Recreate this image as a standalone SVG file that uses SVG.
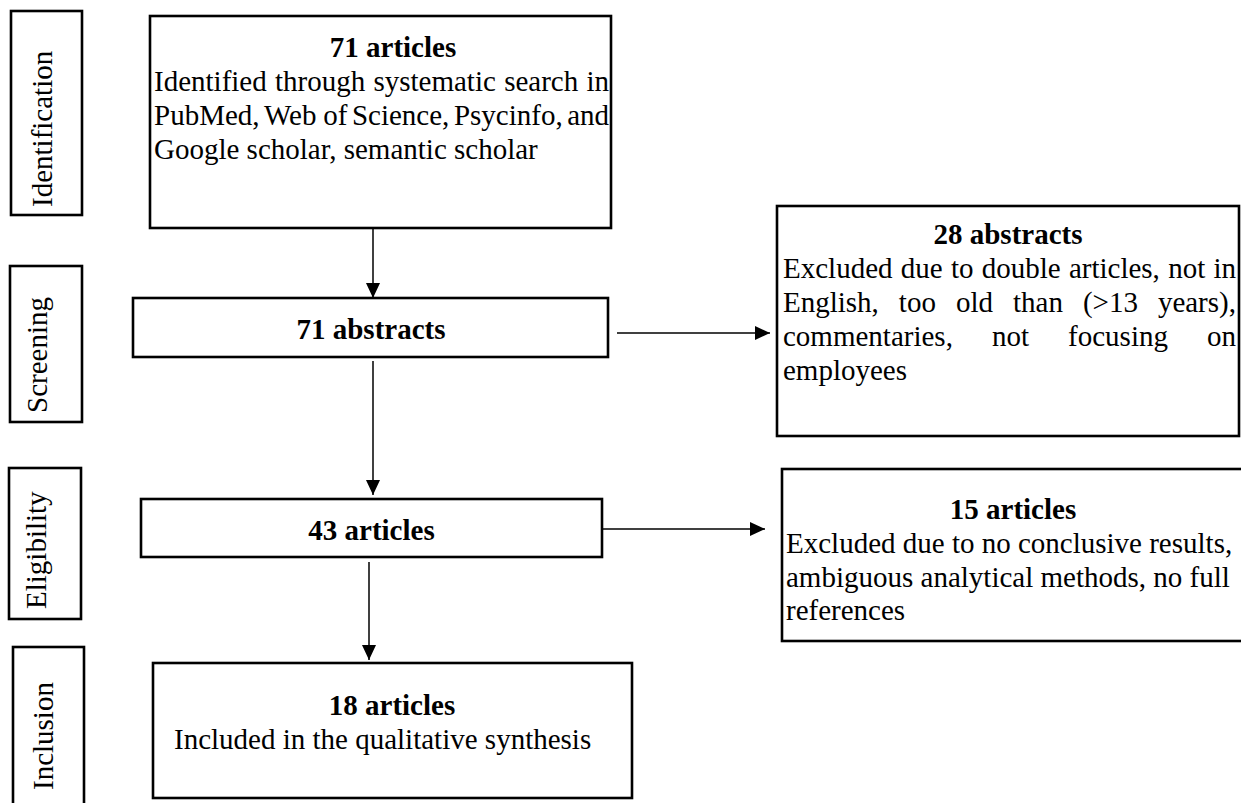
<svg xmlns="http://www.w3.org/2000/svg" width="1241" height="803" viewBox="0 0 1241 803">
<style>
  .box{fill:#fff;stroke:#000;stroke-width:2.6}
  .lbl{fill:none;stroke:#000;stroke-width:2.6}
  .t{font-family:"Liberation Serif","Times New Roman",serif;font-size:29px;fill:#000}
  .b{font-weight:bold;text-anchor:middle}
  .con{stroke:#000;stroke-width:1.5;fill:none;marker-end:url(#ah)}
</style>
<defs>
  <marker id="ah" markerUnits="userSpaceOnUse" markerWidth="16" markerHeight="15" refX="15" refY="7" orient="auto">
    <path d="M0,0 L15,7 L0,14 z" fill="#000"/>
  </marker>
</defs>
<rect width="1241" height="803" fill="#fff"/>

<g id="label-identification">
  <rect class="lbl" x="11" y="11" width="71" height="204"/>
  <text class="t" transform="translate(52,207) rotate(-90)">Identification</text>
</g>
<g id="label-screening">
  <rect class="lbl" x="10" y="266" width="72" height="156"/>
  <text class="t" transform="translate(47,413) rotate(-90)">Screening</text>
</g>
<g id="label-eligibility">
  <rect class="lbl" x="9" y="468" width="72" height="151"/>
  <text class="t" transform="translate(46,609) rotate(-90)">Eligibility</text>
</g>
<g id="label-inclusion">
  <rect class="lbl" x="13" y="647" width="71" height="170"/>
  <text class="t" transform="translate(53,790) rotate(-90)">Inclusion</text>
</g>

<g id="connectors">
  <line class="con" x1="373" y1="228" x2="373" y2="298"/>
  <line class="con" x1="373" y1="361" x2="373" y2="495"/>
  <line class="con" x1="369" y1="562" x2="369" y2="660"/>
  <line class="con" x1="617" y1="333" x2="770" y2="333"/>
  <line class="con" x1="603" y1="529" x2="765" y2="529"/>
</g>

<g id="node-identified">
  <rect class="box" x="150" y="16" width="461" height="212"/>
  <text class="t b" x="393" y="57">71 articles</text>
  <text class="t" y="91"><tspan x="154">Identified</tspan><tspan x="274.99">through</tspan><tspan x="373.45">systematic</tspan><tspan x="504.13">search</tspan><tspan x="586.44">in</tspan></text>
  <text class="t" y="125"><tspan x="154">PubMed,</tspan><tspan x="264.03">Web</tspan><tspan x="323.28">of</tspan><tspan x="351.94">Science,</tspan><tspan x="453.88">Psycinfo,</tspan><tspan x="567.13">and</tspan></text>
  <text class="t" x="154" y="159">Google scholar, semantic scholar</text>
</g>

<g id="node-screening">
  <rect class="box" x="133" y="298" width="475" height="59"/>
  <text class="t b" x="371" y="339">71 abstracts</text>
</g>

<g id="node-excluded-abstracts">
  <rect class="box" x="777" y="206" width="462" height="230"/>
  <text class="t b" x="1008" y="244">28 abstracts</text>
  <text class="t" y="278"><tspan x="783">Excluded</tspan><tspan x="900.78">due</tspan><tspan x="950.9">to</tspan><tspan x="981.71">double</tspan><tspan x="1068.9">articles,</tspan><tspan x="1168.14">not</tspan><tspan x="1213.44">in</tspan></text>
  <text class="t" y="312"><tspan x="783">English,</tspan><tspan x="898.86">too</tspan><tspan x="955.91">old</tspan><tspan x="1012.96">than</tspan><tspan x="1082.89">(&gt;13</tspan><tspan x="1157.89">years),</tspan></text>
  <text class="t" y="346"><tspan x="783">commentaries,</tspan><tspan x="991.98">not</tspan><tspan x="1068.08">focusing</tspan><tspan x="1207">on</tspan></text>
  <text class="t" x="783" y="380">employees</text>
</g>

<g id="node-eligibility">
  <rect class="box" x="141" y="499" width="461" height="58"/>
  <text class="t b" x="371.5" y="540">43 articles</text>
</g>

<g id="node-excluded-articles">
  <rect class="box" x="782" y="469" width="470" height="172"/>
  <text class="t b" x="1013" y="519">15 articles</text>
  <text class="t" x="786" y="553">Excluded due to no conclusive results,</text>
  <text class="t" x="786" y="587">ambiguous analytical methods, no full</text>
  <text class="t" x="786" y="620">references</text>
</g>

<g id="node-included">
  <rect class="box" x="153" y="663" width="479" height="135"/>
  <text class="t b" x="392" y="715">18 articles</text>
  <text class="t" x="174" y="749">Included in the qualitative synthesis</text>
</g>
</svg>
